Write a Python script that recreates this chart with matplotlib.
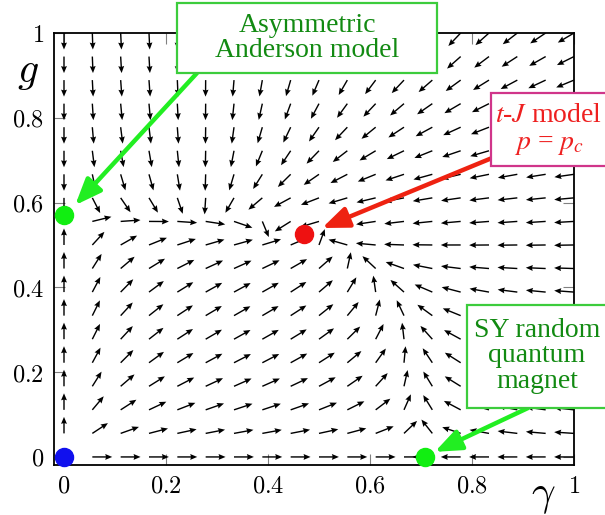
import numpy as np
import matplotlib
matplotlib.use("Agg")
import matplotlib.pyplot as plt
from matplotlib.patches import Rectangle

plt.rcParams['mathtext.fontset'] = 'cm'
plt.rcParams['font.family'] = ['DejaVu Serif']

# fixed points of the flow (gamma, g)
fp_gamma = [0.0, 0.0, 0.47, 0.708]
fp_g = [0.0, 0.571, 0.526, 0.0]
fp_colors = ['#1010ee', '#11ee11', '#ee1111', '#11ee11']

# nullclines
# d(gamma)=0 along gamma = b(g)
null_b_g = [0.0, 0.25, 0.36, 0.47, 0.526, 0.61, 1.0]
null_b_gamma = [0.708, 0.67, 0.62, 0.55, 0.47, 0.27, 0.27]
# dg=0 along g = a(gamma)
null_a_gamma = [0.0, 0.47, 1.0]
null_a_g = [0.571, 0.526, 0.48]

n_grid = 19
ticks = [0, 0.2, 0.4, 0.6, 0.8, 1]
tick_labels = ['$0$', '$0.2$', '$0.4$', '$0.6$', '$0.8$', '$1$']

gam = np.linspace(0, 1, n_grid)
g = np.linspace(0, 1, n_grid)
G, Y = np.meshgrid(gam, g)

b = np.interp(Y, null_b_g, null_b_gamma)
a = np.interp(G, null_a_gamma, null_a_g)
U = G * (b - G)
V = Y * (a - Y)
mag = np.hypot(U, V)
mask = mag > 1e-9
U = U[mask] / mag[mask]
V = V[mask] / mag[mask]

fig = plt.figure(figsize=(6.05, 5.15), dpi=100)
ax = fig.add_axes([54 / 605, 50 / 515, 520 / 605, 432 / 515])

ax.quiver(G[mask], Y[mask], U, V, angles='xy', pivot='tail',
          scale_units='xy', scale=1 / 0.039, width=0.0027, headwidth=4.2,
          headlength=5, headaxislength=4.5, color='black', zorder=2)

ax.set_xlim(-0.0196, 1.0)
ax.set_ylim(-0.019, 1.0)
ax.set_xticks(ticks)
ax.set_xticklabels(tick_labels)
ax.set_yticks(ticks)
ax.set_yticklabels(tick_labels)
ax.tick_params(direction='in', length=8, color='gray', labelsize=17.5, pad=7,
               top=True, right=True)
for s in ax.spines.values():
    s.set_linewidth(1.3)

for x, y, c in zip(fp_gamma, fp_g, fp_colors):
    ax.plot(x, y, 'o', color=c, markersize=13, clip_on=False, zorder=5)

ax.text(-0.07, 0.91, '$g$', fontsize=30, ha='center', va='center', clip_on=False)
ax.text(0.94, -0.09, r'$\gamma$', fontsize=30, ha='center', va='center',
        clip_on=False)

green_txt = '#128a12'
green_edge = '#3ccc3c'
green_arrow = '#22ee22'
red_txt = '#ee2020'
red_arrow = '#ee2211'
pink_edge = '#d0358a'


def px(x, y):
    # figure pixel (from top-left) -> inches, for boxes placed like the reference
    return x / 100, (515 - y) / 100


def box(x0, y0, x1, y1, ec):
    fig.patches.append(Rectangle(px(x0, y1), (x1 - x0) / 100, (y1 - y0) / 100,
                                 transform=fig.dpi_scale_trans, fc='white',
                                 ec=ec, lw=1.6, zorder=6))


def arrow(tip, start, col):
    ax.annotate('', xy=tip, xycoords='data', xytext=(start[0], 515 - start[1]),
                textcoords='figure pixels',
                arrowprops=dict(arrowstyle='-|>,head_length=0.8,head_width=0.32',
                                color=col, lw=3.2, shrinkA=0, shrinkB=0,
                                mutation_scale=20),
                annotation_clip=False, zorder=7)


# Asymmetric Anderson model
box(177, 3, 437, 73, green_edge)
arrow((0.022, 0.594), (197, 73), green_arrow)
fig.text(307 / 605, 1 - 38 / 515, 'Asymmetric\nAnderson model', fontsize=20,
         family='Liberation Serif', color=green_txt, ha='center', va='center',
         linespacing=1.05, zorder=8)

# t-J model
box(491, 93, 612, 166, pink_edge)
arrow((0.506, 0.54), (492, 158), red_arrow)
fig.text(549 / 605, 1 - 130 / 515, '$t$-$J$ model\n$p$ = $p_c$', fontsize=20,
         family='Liberation Serif', math_fontfamily='stix', color=red_txt,
         ha='center', va='center', linespacing=1.1, zorder=8)

# SY random quantum magnet
box(467, 305, 612, 408, green_edge)
arrow((0.727, 0.012), (528, 408), green_arrow)
fig.text(537 / 605, 1 - 356 / 515, 'SY random\nquantum\nmagnet', fontsize=20,
         family='Liberation Serif', color=green_txt, ha='center', va='center',
         linespacing=1.05, zorder=8)

fig.savefig('out.png', dpi=100)
